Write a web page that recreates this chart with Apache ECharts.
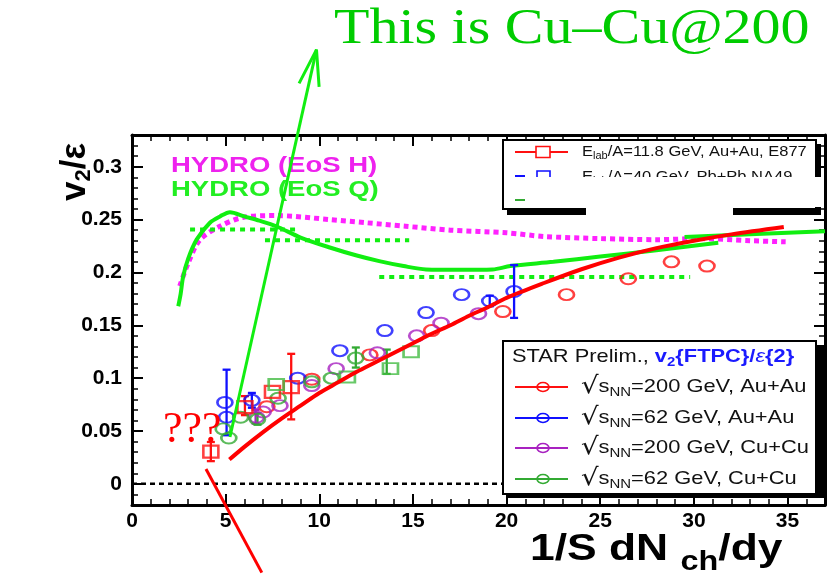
<!DOCTYPE html>
<html><head><meta charset="utf-8">
<script src="https://cdn.jsdelivr.net/npm/echarts@6/dist/echarts.min.js"></script>
<style>html,body{margin:0;padding:0;background:#fff}#c{width:827px;height:574px}</style>
</head><body><div id="c"></div>
<script>
// ---------- tick values ----------
const xMajor = [0,5,10,15,20,25,30,35];
const xMinor = [0,1,2,3,4,5,6,7,8,9,10,11,12,13,14,15,16,17,18,19,20,21,22,23,24,25,26,27,28,29,30,31,32,33,34,35,36,37];
const yMajor = [0,0.05,0.1,0.15,0.2,0.25,0.3];
const yMinor = [-0.02,-0.01,0,0.01,0.02,0.03,0.04,0.05,0.06,0.07,0.08,0.09,0.1,0.11,0.12,0.13,0.14,0.15,0.16,0.17,0.18,0.19,0.2,0.21,0.22,0.23,0.24,0.25,0.26,0.27,0.28,0.29,0.3,0.31,0.32,0.33];

// ---------- data ----------
const auau200Circles = [[7.2,0.073],[9.6,0.099],[12.7,0.122],[16.0,0.145],[19.8,0.163],[23.2,0.179],[26.5,0.194],[28.8,0.210],[30.7,0.206]];
const auau62Circles = [[4.96,0.077],[5.05,0.063],[6.4,0.079],[8.85,0.100],[11.1,0.126],[13.5,0.145],[15.7,0.162],[17.6,0.179],[19.1,0.173],[20.4,0.182]];
const auau62Err = [[5.05,0.046,0.108],[6.4,0.072,0.086],[19.1,0.168,0.178],[20.4,0.157,0.207]];
const cucu200Circles = [[6.65,0.063],[7.0,0.068],[7.9,0.074],[9.6,0.093],[10.9,0.109],[13.1,0.124],[15.2,0.140],[16.5,0.152],[18.5,0.161]];
const cucu200Err = [[6.6,0.057,0.070]];
const cucu62Circles = [[4.87,0.052],[5.17,0.0434],[5.8,0.063],[6.7,0.061],[7.8,0.081],[9.6,0.0965],[10.65,0.100],[11.95,0.119]];
const cucu62Err = [[6.7,0.056,0.067],[11.95,0.110,0.129]];
const redSquares = [[4.21,0.0305],[6.03,0.0726],[7.5,0.087],[8.5,0.0915]];
const redSquaresErr = [[4.21,0.0215,0.0396],[6.03,0.065,0.083],[8.5,0.061,0.123]];
const greenSquares = [[7.7,0.094],[11.5,0.101],[13.8,0.109],[14.9,0.125]];
const greenSquaresErr = [[13.6,0.104,0.127]];

const redFit = [[5.2,0.023],[6,0.035],[7,0.049],[8,0.062],[9,0.074],[10,0.086],[11,0.096],[12,0.106],[13,0.115],[14,0.124],[15,0.133],[16,0.142],[17,0.150],[18,0.159],[19,0.167],[20,0.176],[22,0.190],[24,0.203],[26,0.214],[28,0.223],[30,0.230],[32,0.236],[34.8,0.243]];
const hydroQ = [[2.47,0.168],[2.6,0.18],[2.73,0.196],[3.0,0.213],[3.45,0.231],[4.16,0.247],[4.7,0.253],[5.23,0.257],[6.0,0.253],[6.8,0.249],[7.7,0.2437],[9.0,0.233],[10.56,0.2236],[12,0.216],[13.2,0.2107],[14.5,0.206],[15.7,0.2028],[17.5,0.2025],[19.25,0.2028],[20.2,0.206],[22.5,0.21],[25,0.215],[28,0.221],[31.3,0.228]];
const hydroQb = [[29.5,0.2335],[33,0.236],[37,0.239]];
const hydroH = [[2.55,0.187],[3.0,0.209],[3.63,0.231],[4.7,0.2437],[5.9,0.252],[7.7,0.2538],[10.56,0.25],[12.5,0.247],[14.6,0.2437],[17,0.240],[20,0.2375],[22,0.234],[25,0.232],[28,0.231],[30.3,0.232],[33,0.230],[34.9,0.229]];
const hydroStep1 = [[3.1,0.2406],[8.8,0.2406]];
const hydroStep2 = [[7.1,0.2305],[14.8,0.2305]];
const hydroStep3 = [[13.2,0.1956],[29.8,0.1956]];
const zeroLine = [[0,0],[37,0]];

// annotations (in data coordinates, drawn unclipped)
const arrowShaft = [[5.23,0.0443],[9.85,0.4108]];
const arrowHead = [[8.92,0.3788],[9.85,0.4108],[9.99,0.3755]];
const redPointer = [[3.95,0.014],[6.93,-0.084]];

const RED='#ff1010', BLUE='#1010ff', PURPLE='#a822c0', GREEN='#33aa33', HGREEN='#11ee11', MAG='#ff22ff';
const ellipse = 'path://M0,5A5,5 0 1,1 10,5A5,5 0 1,1 0,5Z';

function hollow(name, data, sym, size, color){
  return {type:'scatter', name, data, symbol:sym, symbolSize:size, z:5,
    itemStyle:{color:'rgba(0,0,0,0)', borderColor:color, borderWidth:2.3}, silent:true};
}
function errBars(data, color){
  return {type:'custom', data, z:4, silent:true, encode:{x:0,y:[1,2]},
    renderItem:(p, api)=>{
      const x=api.value(0), lo=api.value(1), hi=api.value(2);
      const a=api.coord([x,lo]), b=api.coord([x,hi]); const c=4;
      const st={stroke:color,lineWidth:2.3};
      return {type:'group',children:[
        {type:'line',shape:{x1:a[0],y1:a[1],x2:b[0],y2:b[1]},style:st},
        {type:'line',shape:{x1:a[0]-c,y1:a[1],x2:a[0]+c,y2:a[1]},style:st},
        {type:'line',shape:{x1:b[0]-c,y1:b[1],x2:b[0]+c,y2:b[1]},style:st}]};
    }};
}
function line(data, color, width, type, z, extra){
  return Object.assign({type:'line', data, symbol:'none', silent:true, z:z,
    lineStyle:{color, width, type}, smooth:false}, extra||{});
}

const tickLbl = {fontFamily:'Liberation Sans', fontWeight:'bold', fontSize:21, color:'#000'};
const axLine = {show:true, onZero:false, lineStyle:{color:'#000', width:3}};
function xAx(pos, ticks, len, labels){
  return {type:'value', min:0, max:37, position:pos,
    axisLine: labels!==null ? axLine : {show:false,onZero:false},
    axisTick:{show:true, inside:true, length:len, customValues:ticks, lineStyle:{color:'#000', width:len>8?2:1.5}},
    axisLabel: labels ? Object.assign({show:true, customValues:labels, margin:6}, tickLbl) : {show:false},
    splitLine:{show:false}, minorTick:{show:false}};
}
function yAx(pos, ticks, len, labels){
  return {type:'value', min:-0.02, max:0.33, position:pos,
    axisLine: labels!==null ? axLine : {show:false,onZero:false},
    axisTick:{show:true, inside:true, length:len, customValues:ticks, lineStyle:{color:'#000', width:len>8?2:1.5}},
    axisLabel: labels ? Object.assign({show:true, customValues:labels, margin:10}, tickLbl) : {show:false},
    splitLine:{show:false}, minorTick:{show:false}};
}

const legT = 'Liberation Sans';
function entry(y, color, label){
  return [
    {type:'line', shape:{x1:515,y1:y,x2:568,y2:y}, style:{stroke:color, lineWidth:2}, z:112},
    {type:'ellipse', shape:{cx:543,cy:y,rx:6,ry:4.5}, style:{fill:'none', stroke:color, lineWidth:1.6}, z:113},
    {type:'text', x:581, y:y, scaleX:1.15, z:113, style:{text:'{r|√}s{n|NN}'+label, fontFamily:legT, fontSize:19, fill:'#111', verticalAlign:'middle',
      rich:{r:{fontSize:24, fontFamily:'DejaVu Sans'}, n:{fontSize:13, padding:[10,0,0,0]}}}}
  ];
}

const graphic = [
  // top legend
  {type:'rect', shape:{x:507,y:144,width:314,height:71}, style:{fill:'#000'}, z:100},
  {type:'rect', shape:{x:503,y:140,width:313,height:69}, style:{fill:'#fff', stroke:'#000', lineWidth:2}, z:101},
  {type:'line', shape:{x1:515,y1:152,x2:568,y2:152}, style:{stroke:RED, lineWidth:2}, z:102},
  {type:'rect', shape:{x:536,y:146.5,width:14,height:11}, style:{fill:'#fff', stroke:RED, lineWidth:1.6}, z:103},
  {type:'text', x:582, y:152, scaleX:1.1, z:103, style:{text:'E{s|lab}/A=11.8 GeV, Au+Au, E877', fontFamily:legT, fontSize:15, fill:'#111', verticalAlign:'middle', rich:{s:{fontSize:10, padding:[9,0,0,0]}}}},
  {type:'line', shape:{x1:515,y1:176,x2:525,y2:176}, style:{stroke:BLUE, lineWidth:2}, z:102},
  {type:'rect', shape:{x:537,y:171,width:13,height:11}, style:{fill:'#fff', stroke:BLUE, lineWidth:1.6}, z:103},
  {type:'text', x:582, y:177, scaleX:1.1, z:103, style:{text:'E{s|lab}/A=40 GeV, Pb+Pb NA49', fontFamily:legT, fontSize:15, fill:'#111', verticalAlign:'middle', rich:{s:{fontSize:10, padding:[9,0,0,0]}}}},
  {type:'line', shape:{x1:515,y1:200,x2:525,y2:200}, style:{stroke:GREEN, lineWidth:2}, z:102},
  {type:'rect', shape:{x:528,y:177,width:296,height:30}, style:{fill:'#fff'}, z:104},
  {type:'rect', shape:{x:586,y:206,width:147,height:11}, style:{fill:'#fff'}, z:104},

  // bottom legend
  {type:'rect', shape:{x:507,y:345,width:318,height:153}, style:{fill:'#000'}, z:110},
  {type:'rect', shape:{x:503,y:341,width:313,height:153}, style:{fill:'#fff', stroke:'#000', lineWidth:2}, z:111},
  {type:'text', x:512, y:357, scaleX:1.15, z:113, style:{text:'{k|STAR Prelim., }v{s|2}{FTPC}/{e|ε}{2}', fontFamily:legT, fontSize:19, fontWeight:'bold', fill:'#1a1aff', verticalAlign:'middle',
    rich:{k:{fontWeight:'normal', fill:'#111', fontSize:19}, s:{fontSize:13, fontWeight:'bold', padding:[10,0,0,0]}, e:{fontStyle:'italic', fontWeight:'normal', fontSize:19}}}},
  ...entry(387, RED, '=200 GeV, Au+Au'),
  ...entry(418, BLUE, '=62 GeV, Au+Au'),
  ...entry(448, PURPLE, '=200 GeV, Cu+Cu'),
  ...entry(479, GREEN, '=62 GeV, Cu+Cu'),

  // hydro labels
  {type:'text', x:171, y:166, scaleX:1.25, z:20, style:{text:'HYDRO (EoS H)', fontFamily:legT, fontSize:22, fontWeight:'bold', fill:'#ee22ee', verticalAlign:'middle'}},
  {type:'text', x:171, y:190, scaleX:1.25, z:20, style:{text:'HYDRO (EoS Q)', fontFamily:legT, fontSize:22, fontWeight:'bold', fill:'#22ee22', verticalAlign:'middle'}},

  // axis titles
  {type:'text', x:75, y:201, rotation:Math.PI/2, z:20, style:{text:'v{s|2}/ε', fontFamily:legT, fontSize:35, fontWeight:'bold', fill:'#000', verticalAlign:'middle', rich:{s:{fontSize:22, fontWeight:'bold', padding:[18,0,0,0]}}}},
  {type:'text', x:530, y:550, scaleX:1.2, z:20, style:{text:'1/S dN {s|ch}/dy', fontFamily:legT, fontSize:37, fontWeight:'bold', fill:'#000', verticalAlign:'middle', rich:{s:{fontSize:27, fontWeight:'bold', padding:[26,0,0,0]}}}},

  // annotations text
  {type:'text', x:334, y:30, scaleX:1.16, z:200, style:{text:'This is Cu–Cu@200', fontFamily:'Liberation Serif', fontSize:50, fill:'#00cc00', verticalAlign:'middle'}},
  {type:'text', x:163, y:430, z:200, style:{text:'???', fontFamily:'Liberation Serif', fontSize:44, fill:'#ff0000', verticalAlign:'middle'}}
];

const option = {
  animation:false,
  backgroundColor:'#fff',
  grid:{left:132, right:2, top:135, bottom:69, containLabel:false, outerBoundsMode:'none'},
  xAxis:[ xAx('bottom', xMajor, 11, xMajor), xAx('bottom', xMinor, 6, null), xAx('top', xMajor, 11, false), xAx('top', xMinor, 6, null) ],
  yAxis:[ yAx('left', yMajor, 11, yMajor), yAx('left', yMinor, 6, null), yAx('right', yMajor, 11, false), yAx('right', yMinor, 6, null) ],
  series:[
    line(zeroLine, '#000', 2.5, [5,4], 2),
    line(hydroH, MAG, 5, [5,4], 3, {smooth:0.3}),
    line(hydroQ, HGREEN, 4, 'solid', 3, {smooth:0.3}),
    line(hydroQb, HGREEN, 4, 'solid', 3),
    line(hydroStep1, HGREEN, 4, [5,5], 3),
    line(hydroStep2, HGREEN, 4, [5,5], 3),
    line(hydroStep3, HGREEN, 4, [5,5], 3),
    errBars(auau62Err, BLUE),
    errBars(cucu200Err, PURPLE),
    errBars(cucu62Err, GREEN),
    errBars(redSquaresErr, RED),
    errBars(greenSquaresErr, GREEN),
    hollow('auau200', auau200Circles, ellipse, [15,11], RED),
    hollow('auau62', auau62Circles, ellipse, [15,11], BLUE),
    hollow('cucu200', cucu200Circles, ellipse, [15,11], PURPLE),
    hollow('cucu62', cucu62Circles, ellipse, [15,11], GREEN),
    hollow('redsq', redSquares, 'rect', [15,12], RED),
    hollow('greensq', greenSquares, 'rect', [15,11], '#44bb44'),
    line(redFit, '#ff0000', 4, 'solid', 8, {smooth:0.3}),
    line(arrowShaft, '#11ee11', 3, 'solid', 50, {clip:false}),
    line(arrowHead, '#11ee11', 3, 'solid', 50, {clip:false}),
    line(redPointer, '#ff0000', 3, 'solid', 50, {clip:false})
  ],
  graphic: graphic
};
const chart = echarts.init(document.getElementById('c'), null, {renderer:'canvas'});
chart.setOption(option);
</script>
</body></html>
